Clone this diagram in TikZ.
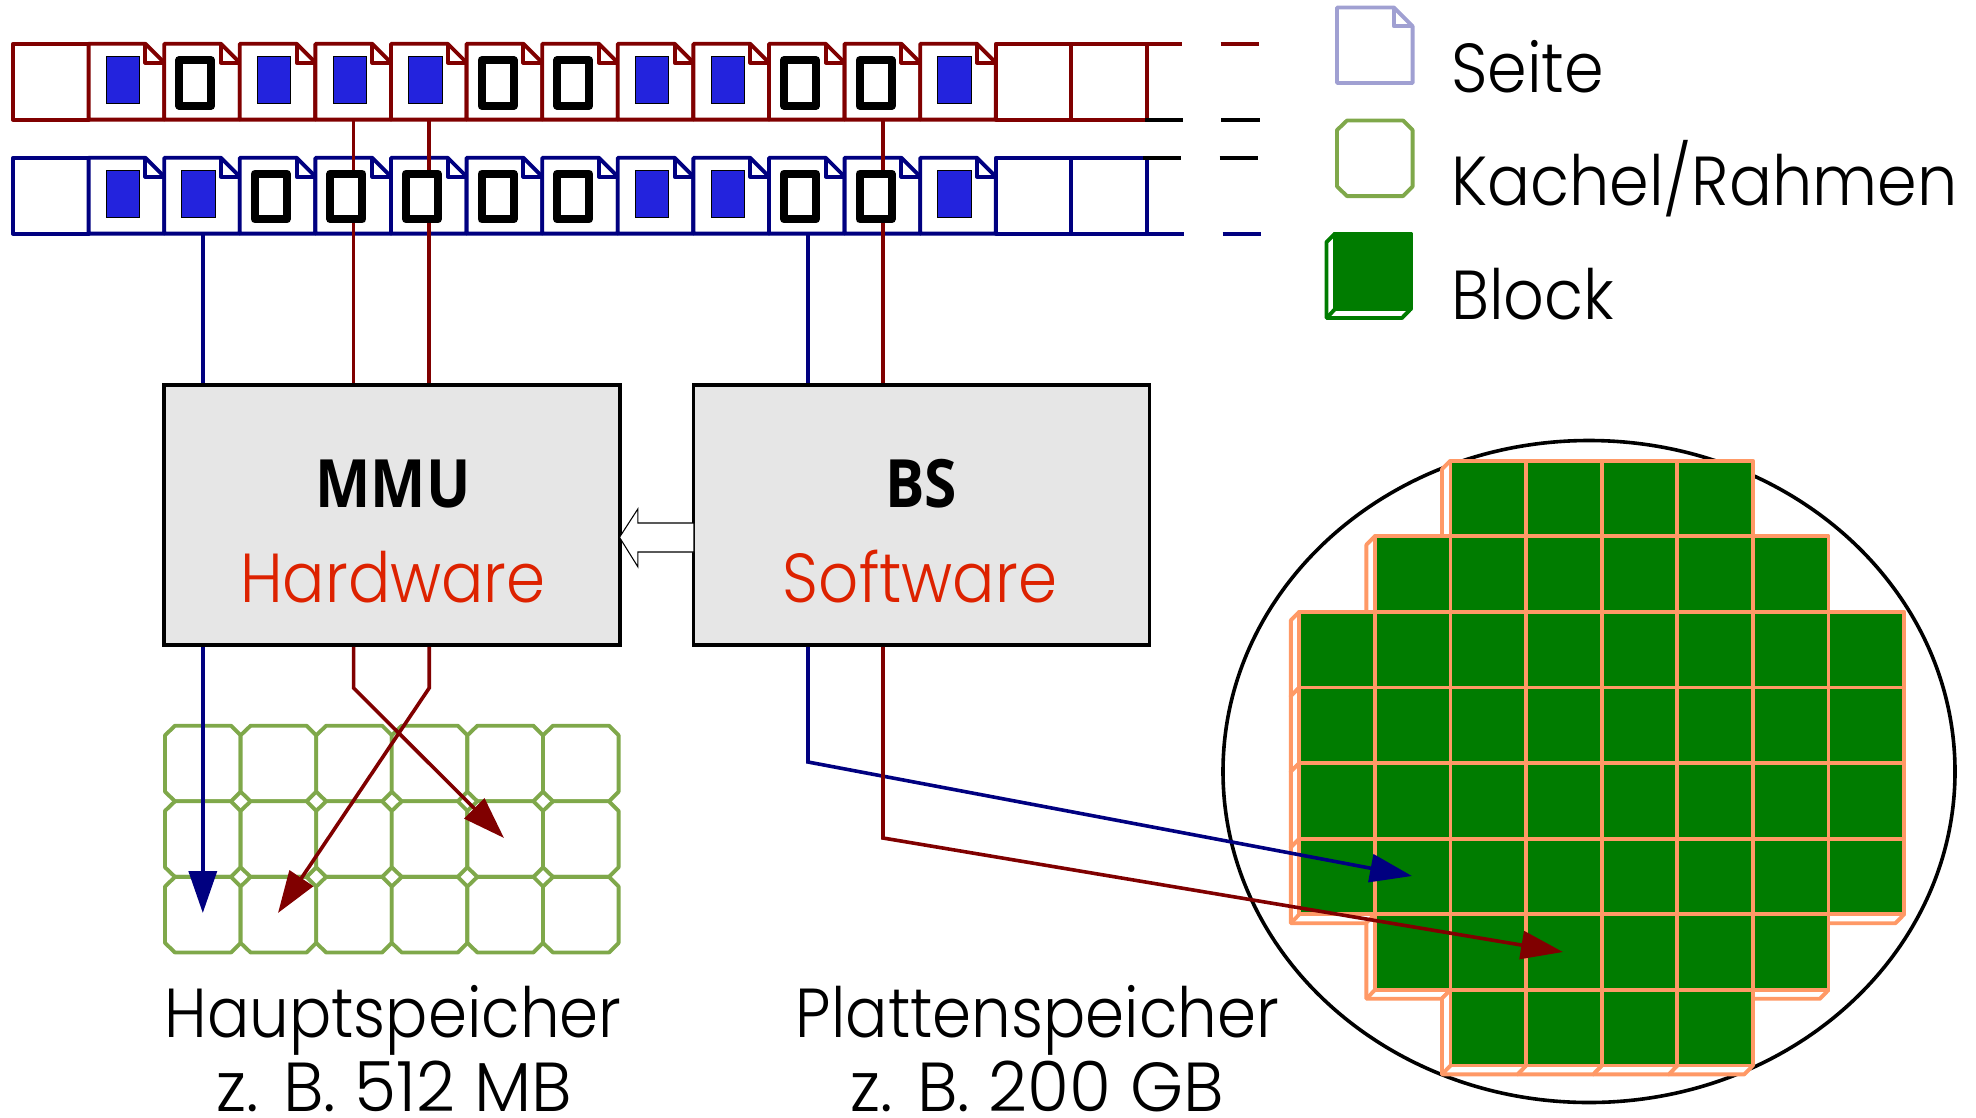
\documentclass[tikz,border=0pt]{standalone}
\usepackage{fontspec}
\usetikzlibrary{arrows.meta,calc}
\setmainfont[FakeStretch=0.905]{Poppins Light}
\newfontfamily\legendfont[FakeStretch=0.918]{Poppins Light}
\newfontfamily\sizefont[FakeStretch=0.98]{Poppins Light}
\newfontfamily\boldlabel[FakeStretch=0.88]{Open Sans Bold}
\definecolor{dred}{HTML}{800000}
\definecolor{dblue}{HTML}{000080}
\definecolor{pagelegend}{HTML}{A0A0D2}
\definecolor{framegreen}{HTML}{7FA84A}
\definecolor{blockgreen}{HTML}{007C00}
\definecolor{peach}{HTML}{FF9966}
\definecolor{fillblue}{HTML}{2323DD}
\definecolor{boxgray}{HTML}{E6E6E6}
\definecolor{labelred}{HTML}{DD2200}
\tikzset{
  x=0.75pt,y=-0.75pt,
  edge/.style={line width=2.9pt,line join=round},
  conn/.style={line width=2.7pt,line join=miter},
  head/.style={-{Triangle[length=31.5pt,width=21pt,fill=#1]}},
  unit/.style={rectangle,draw=black,line width=2.8pt,fill=boxgray,minimum width=342pt,minimum height=195pt,inner sep=0pt},
  lbl/.style={inner sep=0pt,font=\fontsize{#1}{#1}\selectfont,anchor=base},
  szlbl/.style={inner sep=0pt,font=\sizefont\fontsize{#1}{#1}\selectfont,anchor=base},
  lbll/.style={inner sep=0pt,font=\legendfont\fontsize{#1}{#1}\selectfont,anchor=base west},
  blbl/.style={inner sep=0pt,font=\boldlabel\fontsize{#1}{#1}\selectfont,anchor=base}
}
\newcommand{\pagesheet}[4]{% x top bottom colour
  \pgfmathsetmacro\xa{#1+56.8}\pgfmathsetmacro\xb{#1+75.6}\pgfmathsetmacro\yf{#2+18.8}
  \draw[edge,draw=#4,fill=white] (#1,#2)--(\xa,#2)--(\xb,\yf)--(\xb,#3)--(#1,#3)--cycle;
  \draw[edge,draw=#4] (\xa,#2)--(\xa,\yf)--(\xb,\yf);
}
\newcommand{\inmem}[2]{\pgfmathsetmacro\xa{#1+17.6}\pgfmathsetmacro\xb{#1+51}\pgfmathsetmacro\yb{#2+46.6}
  \draw[line width=0.6pt,draw=black,fill=fillblue] (\xa,#2) rectangle (\xb,\yb);}
\newcommand{\ondisk}[2]{\pgfmathsetmacro\xa{#1+15}\pgfmathsetmacro\xb{#1+47}\pgfmathsetmacro\ya{#2+3.4}\pgfmathsetmacro\yb{#2+49}
  \draw[line width=6pt,draw=black,fill=white,line join=round] (\xa,\ya) rectangle (\xb,\yb);}
\newcommand{\pframe}[2]{\pgfmathsetmacro\xa{#1+10}\pgfmathsetmacro\xb{#1+66}\pgfmathsetmacro\xc{#1+75.6}
  \pgfmathsetmacro\ya{#2+9.6}\pgfmathsetmacro\yb{#2+66}\pgfmathsetmacro\yc{#2+75.6}
  \draw[edge,draw=framegreen,fill=white] (\xa,#2)--(\xb,#2)--(\xc,\ya)--(\xc,\yb)--(\xb,\yc)--(\xa,\yc)--(#1,\yb)--(#1,\ya)--cycle;}
\newcommand{\dblock}[4]{% x y front-colour fill
  \pgfmathsetmacro\xa{#1-8.5}\pgfmathsetmacro\xb{#1+67}\pgfmathsetmacro\xc{#1+75.6}
  \pgfmathsetmacro\ya{#2+8.5}\pgfmathsetmacro\yb{#2+84.5}\pgfmathsetmacro\yc{#2+75.6}
  \draw[edge,draw=#3,fill=white] (#1,#2)--(\xa,\ya)--(\xa,\yb)--(\xb,\yb)--(\xc,\yc)--cycle;
  \draw[edge,draw=#3] (\xa,\yb)--(#1,\yc);
  \draw[edge,draw=#3,fill=#4] (#1,#2) rectangle (\xc,\yc);
}
\begin{document}
\begin{tikzpicture}
\useasboundingbox (0,0) rectangle (1976,1117);
% disk
\draw[line width=2.7pt,draw=black,fill=white] (1589,771.5) ellipse [x radius=366,y radius=331];
% rows of pages
\foreach \t/\b/\c in {43.8/119.6/dred,157.8/233.6/dblue}{
  \draw[edge,draw=\c,fill=white] (13,\t) rectangle (88.6,\b);
  \foreach \i in {13,14}{
    \pgfmathsetmacro\pa{13+75.6*\i}\pgfmathsetmacro\pb{13+75.6*(\i+1)}
    \draw[edge,draw=\c,fill=white] (\pa,\t) rectangle (\pb,\b);}
  \foreach \i in {1,...,12}{
    \pgfmathsetmacro\px{13+75.6*\i}
    \pagesheet{\px}{\t}{\b}{\c}}
}
% row ends
\draw[edge,draw=dred] (1147,43.8)--(1182,43.8) (1147,43.8)--(1147,119.6);
\draw[edge,draw=dblue] (1147,157.8)--(1147,233.6)--(1184,233.6);
\draw[edge,draw=black] (1145,120.3)--(1183,120.3) (1143,158.3)--(1181,158.3);
\draw[edge,draw=dred] (1220.5,43.8)--(1259,43.8);
\draw[edge,draw=black] (1221,120.3)--(1259.5,120.3) (1219.7,158.3)--(1258,158.3);
\draw[edge,draw=dblue] (1222.5,233.6)--(1261,233.6);
% boxes
\node[unit] (mmu) at (392,515) {};
\node[unit] (bs) at (921.5,515) {};
% anchors
\coordinate (r4) at (353.6,119.6);
\coordinate (r5) at (429.2,119.6);
\coordinate (r10) at (883,119.6);
\coordinate (b1) at (202.8,233.6);
\coordinate (b9) at (808,233.6);
\draw[conn,draw=dred] (r4)--(r4|-mmu.north);
\draw[conn,draw=dred] (r5)--(r5|-mmu.north);
\draw[conn,draw=dred] (r10)--(r10|-bs.north);
\draw[conn,draw=dblue] (b1)--(b1|-mmu.north);
\draw[conn,draw=dblue] (b9)--(b9|-bs.north);
% contents of the pages, over the connectors
\foreach \y/\lst in {56.8/{m,d,m,m,m,d,d,m,m,d,d,m},170.3/{m,m,d,d,d,d,d,m,m,d,d,m}}{
  \foreach \k [count=\i] in \lst {
    \pgfmathsetmacro\px{13+75.6*\i}
    \if\k m\inmem{\px}{\y}\else\ondisk{\px}{\y}\fi
  }
}
% frames
\foreach \j in {0,1,2}{\foreach \i in {0,...,5}{
  \pgfmathsetmacro\px{165+75.6*\i}\pgfmathsetmacro\py{725.7+75.6*\j}
  \pframe{\px}{\py}}}
% disk blocks
\foreach \j/\a/\e in {0/2/5,1/1/6,2/0/7,3/0/7,4/0/7,5/0/7,6/1/6,7/2/5}{
  \foreach \k in {\e,...,\a}{
    \pgfmathsetmacro\px{1299.3+75.6*\k}\pgfmathsetmacro\py{460.7+75.6*\j}
    \dblock{\px}{\py}{peach}{blockgreen}
  }
}
% targets
\coordinate (t1) at (202.8,913);
\coordinate (t2) at (504,838);
\coordinate (t3) at (278,913);
\coordinate (t4) at (1412,876);
\coordinate (t5) at (1563,952);
\coordinate (k1) at (353.6,688);
\coordinate (k2) at (429.2,688);
\coordinate (k3) at (808,762);
\coordinate (k4) at (883,838);
\draw[conn,draw=dblue,head=dblue] (b1|-mmu.south)--(t1);
\draw[conn,draw=dred,head=dred] (r4|-mmu.south)--(k1)--(t2);
\draw[conn,draw=dred,head=dred] (r5|-mmu.south)--(k2)--(t3);
\draw[conn,draw=dblue,head=dblue] (b9|-bs.south)--(k3)--(t4);
\draw[conn,draw=dred,head=dred] (r10|-bs.south)--(k4)--(t5);
% hollow arrow
\coordinate (tip) at (619.5,537.3);
\coordinate (tail) at (694,537.3);
\draw[line width=0.8pt,draw=black,fill=white] (tip)--(637.8,509)--(637.8,523)--(tail|-0,523)--(tail|-0,552)--(637.8,552)--(637.8,566.7)--cycle;
% legend
\pagesheet{1337}{7.5}{83}{pagelegend}
\pframe{1337}{120.5}
\dblock{1335}{233.5}{blockgreen}{blockgreen}
% text
\node[blbl=50] (mmulabel) at (393,507) {MMU};
\node[lbl=52,text=labelred] (hwlabel) at (393,602) {Hardware};
\node[blbl=50] (bslabel) at (921,507) {BS};
\node[lbl=52,text=labelred] (swlabel) at (920,602) {Software};
\node[lbl=52] (hs1) at (393,1037) {Hauptspeicher};
\node[szlbl=52] (hs2) at (394,1111) {z. B. 512 MB};
\node[lbl=52] (ps1) at (1037.5,1037) {Plattenspeicher};
\node[szlbl=52] (ps2) at (1037,1111) {z. B. 200 GB};
\node[lbll=52] (seite) at (1451,92) {Seite};
\node[lbll=52] (kachel) at (1451,205.5) {Kachel/Rahmen};
\node[lbll=52] (block) at (1451,319) {Block};
\end{tikzpicture}
\end{document}
